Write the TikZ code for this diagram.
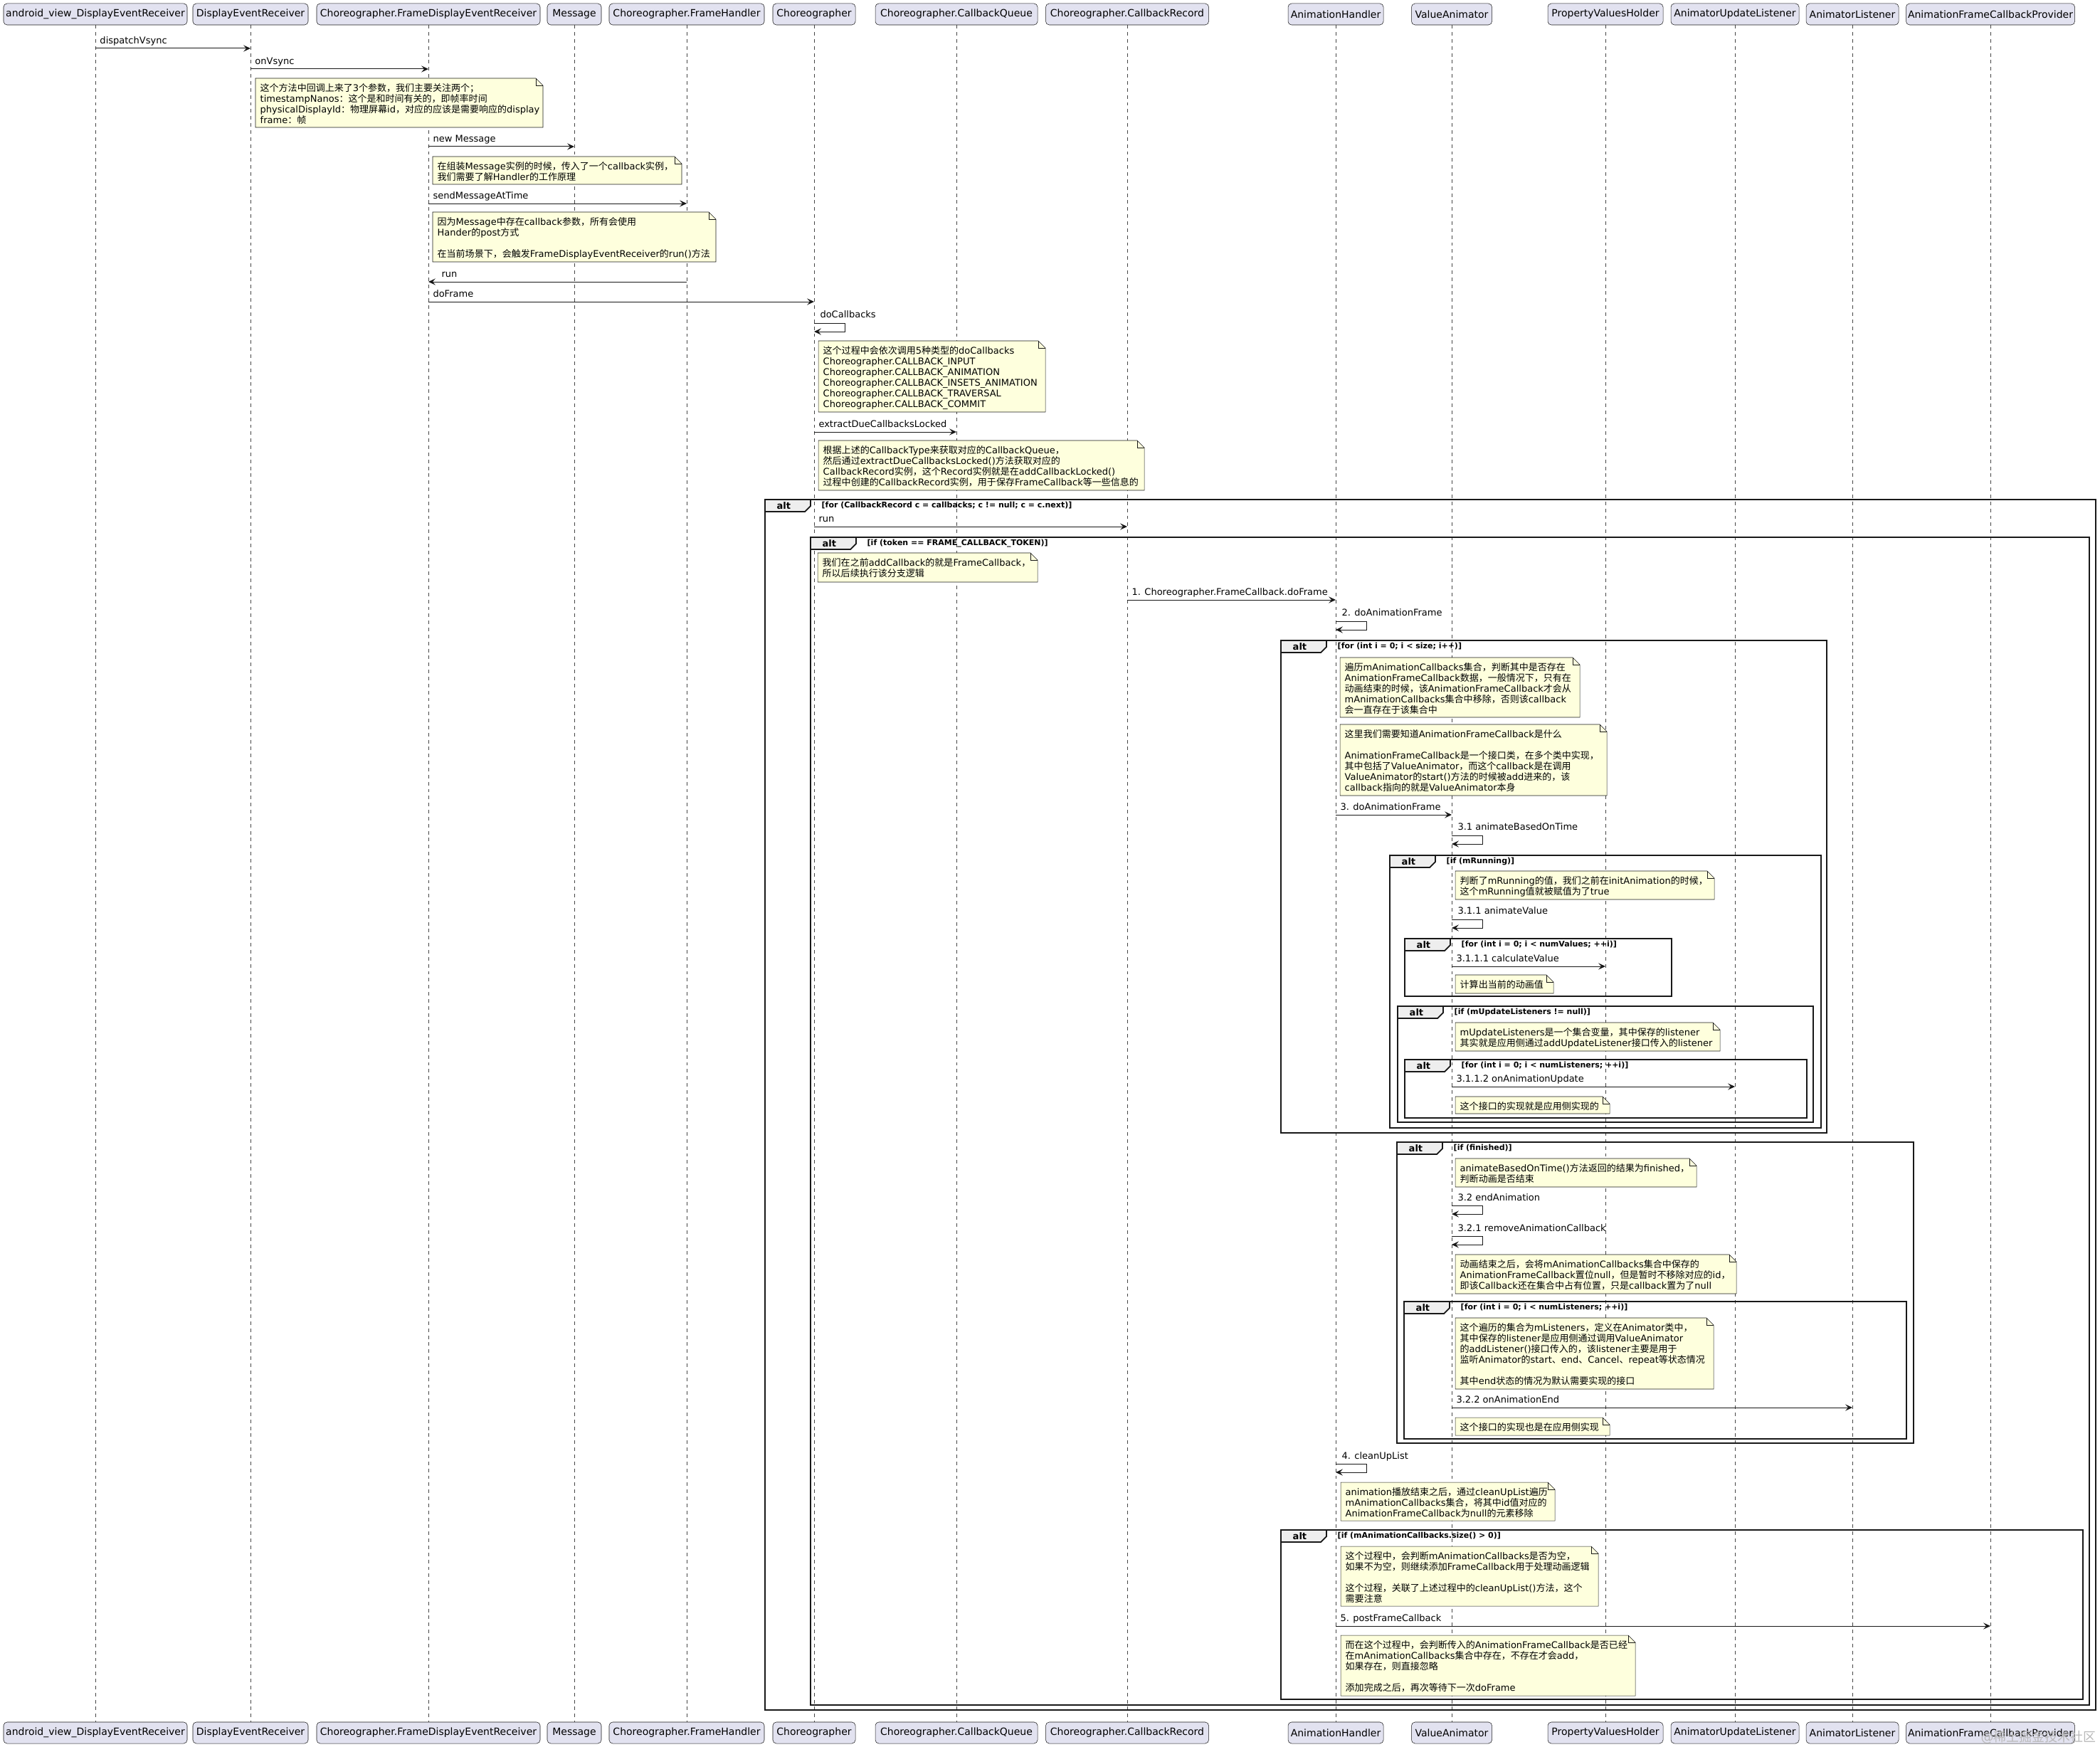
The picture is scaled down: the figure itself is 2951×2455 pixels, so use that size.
\documentclass[tikz,border=0pt]{standalone}
\usepackage{fontspec}
\setmainfont{DejaVu Sans}
\newfontfamily\cjk{Noto Sans CJK SC}
\newfontfamily\latinf{DejaVu Sans}
\usetikzlibrary{arrows.meta,calc}

% switch to the CJK font for Chinese characters
\XeTeXinterchartokenstate=1
\chardef\CJKclass=10
\newcount\cjkc
\newcommand\setcjkrange[2]{\cjkc=#1\relax
  \loop\XeTeXcharclass\cjkc=\CJKclass\relax
    \advance\cjkc by 1\relax
  \ifnum\cjkc<#2\relax\repeat}
\setcjkrange{"4E00}{"A000}
\setcjkrange{"3000}{"3040}
\setcjkrange{"FF00}{"FFF0}
\XeTeXinterchartoks 0 \CJKclass = {\cjk}
\XeTeXinterchartoks 4095 \CJKclass = {\cjk}
\XeTeXinterchartoks \CJKclass 0 = {\latinf}
\XeTeXinterchartoks \CJKclass 4095 = {\latinf}

\definecolor{partfill}{HTML}{E2E2F0}
\definecolor{umlline}{HTML}{181818}
\definecolor{notefill}{HTML}{FEFFDD}
\definecolor{tabfill}{HTML}{EEEEEE}

\newcommand\msgfont{\fontsize{3.7pt}{4.27pt}\selectfont}
\newcommand\partfont{\fontsize{3.98pt}{4.6pt}\selectfont}
\newcommand\guardfont{\fontsize{3.13pt}{3.6pt}\selectfont\bfseries}
\newcommand\altfont{\fontsize{3.7pt}{4.3pt}\selectfont\bfseries}

\tikzset{
  partbox/.style={draw=umlline, line width=0.15pt, fill=partfill, rounded corners=1.4pt,
    minimum height=0.3cm, inner sep=0pt, font=\partfont},
  lifeline/.style={draw=umlline!80, line width=0.15pt, dash pattern=on 1.4pt off 1.4pt},
  msg/.style={->, draw=umlline, line width=0.28pt},
  msglabel/.style={anchor=base west, inner sep=0pt, font=\msgfont, xshift=0.06cm, yshift=0.065cm},
  selflabel/.style={anchor=base west, inner sep=0pt, font=\msgfont, xshift=0.08cm, yshift=0.07cm},
  notebody/.style={draw=umlline, line width=0.15pt, fill=notefill},
  notetext/.style={anchor=north west, inner sep=0pt, align=left, font=\msgfont},
  frameline/.style={draw=umlline, line width=0.5pt},
  tabshape/.style={frameline, fill=tabfill},
  altlabel/.style={anchor=west, inner sep=0pt, font=\altfont},
  guard/.style={anchor=west, inner sep=0pt, font=\guardfont}
}

% note with folded corner: name, x1, y1, x2, y2, text
\newcommand\notebox[6]{%
  \draw[notebody] (#2,#3) -- ({#4-10},#3) -- (#4,{#3+10}) -- (#4,#5) -- (#2,#5) -- cycle;
  \draw[notebody, fill=none] ({#4-10},#3) -- ({#4-10},{#3+10}) -- (#4,{#3+10});
  \node[notetext] (#1) at ({#2+6},{#3+7}) {#6};
}
% alt frame: name, x1, y1, x2, y2, guard
\newcommand\altbox[6]{%
  \draw[frameline] (#2,#3) rectangle (#4,#5);
  \draw[tabshape] (#2,#3) -- ({#2+64},#3) -- ({#2+64},{#3+9}) -- ({#2+56},{#3+17}) -- (#2,{#3+17}) -- cycle;
  \node[altlabel] (#1) at ({#2+16},{#3+8.5}) {alt};
  \node[guard] (#1-g) at ({#2+79},{#3+8.5}) {#6};
}

\begin{document}
\begin{tikzpicture}[x=0.01cm, y=-0.01cm, >={Stealth[length=2.8pt,width=2.6pt,inset=1.1pt]}]
    \useasboundingbox[fill=white] (0,0) rectangle (2951,2455);

    % Participants and lifelines
    \foreach \id/\x/\w/\txt in {
        ADER/134/258/{android\_view\_DisplayEventReceiver},
        DER/352/162/DisplayEventReceiver,
        FDER/602/314/Choreographer.FrameDisplayEventReceiver,
        MSG/807/76/Message,
        FH/965/218/Choreographer.FrameHandler,
        CH/1144/116/Choreographer,
        CQ/1344/228/Choreographer.CallbackQueue,
        CR/1584/229/Choreographer.CallbackRecord,
        AH/1877/134/AnimationHandler,
        VA/2040/113/ValueAnimator,
        PVH/2256/162/PropertyValuesHolder,
        AUL/2438/180/AnimatorUpdateListener,
        AL/2603/130/AnimatorListener,
        AFCP/2797/237/AnimationFrameCallbackProvider}
    {
        \coordinate (\id) at (\x,0);
        \node[partbox, minimum width=\w*0.01cm] (\id-top) at (\x,20) {\txt};
        \node[partbox, minimum width=\w*0.01cm] (\id-bot) at (\x,2435) {\txt};
        \draw[lifeline] (\id-top) -- (\id-bot);
    }

    % Alt frames
    \altbox{f1}{1075}{702}{2945}{2403}{[for (CallbackRecord c = callbacks; c != null; c = c.next)]}
    \altbox{f2}{1139}{755}{2936}{2396}{[if (token == FRAME\_CALLBACK\_TOKEN)]}
    \altbox{f3}{1800}{900}{2567}{1592}{[for (int i = 0; i < size; i++)]}
    \altbox{f4}{1953}{1202}{2559}{1585}{[if (mRunning)]}
    \altbox{f5}{1974}{1319}{2349}{1400}{[for (int i = 0; i < numValues; ++i)]}
    \altbox{f6}{1964}{1414}{2548}{1577}{[if (mUpdateListeners != null)]}
    \altbox{f7}{1974}{1489}{2539}{1571}{[for (int i = 0; i < numListeners; ++i)]}
    \altbox{f8}{1963}{1605}{2689}{2028}{[if (finished)]}
    \altbox{f9}{1973}{1829}{2679}{2022}{[for (int i = 0; i < numListeners; ++i)]}
    \altbox{f10}{1800}{2150}{2927}{2388}{[if (mAnimationCallbacks.size() > 0)]}

    % Notes
    \notebox{n1}{359}{110}{763}{179}{这个方法中回调上来了3个参数，我们主要关注两个；\\timestampNanos：这个是和时间有关的，即帧率时间\\physicalDisplayId：物理屏幕id，对应的应该是需要响应的display\\frame：帧}
    \notebox{n2}{608}{220}{958}{259}{在组装Message实例的时候，传入了一个callback实例，\\我们需要了解Handler的工作原理}
    \notebox{n3}{608}{298}{1006}{368}{因为Message中存在callback参数，所有会使用\\Hander的post方式\\[4.27pt]在当前场景下，会触发FrameDisplayEventReceiver的run()方法}
    \notebox{n4}{1150}{479}{1469}{579}{这个过程中会依次调用5种类型的doCallbacks\\Choreographer.CALLBACK\_INPUT\\Choreographer.CALLBACK\_ANIMATION\\Choreographer.CALLBACK\_INSETS\_ANIMATION\\Choreographer.CALLBACK\_TRAVERSAL\\Choreographer.CALLBACK\_COMMIT}
    \notebox{n5}{1150}{619}{1608}{689}{根据上述的CallbackType来获取对应的CallbackQueue，\\然后通过extractDueCallbacksLocked()方法获取对应的\\CallbackRecord实例，这个Record实例就是在addCallbackLocked()\\过程中创建的CallbackRecord实例，用于保存FrameCallback等一些信息的}
    \notebox{n6}{1149}{777}{1458}{818}{我们在之前addCallback的就是FrameCallback，\\所以后续执行该分支逻辑}
    \notebox{n7}{1883}{924}{2220}{1008}{遍历mAnimationCallbacks集合，判断其中是否存在\\AnimationFrameCallback数据，一般情况下，只有在\\动画结束的时候，该AnimationFrameCallback才会从\\mAnimationCallbacks集合中移除，否则该callback\\会一直存在于该集合中}
    \notebox{n8}{1883}{1018}{2258}{1118}{这里我们需要知道AnimationFrameCallback是什么\\[4.27pt]AnimationFrameCallback是一个接口类，在多个类中实现，\\其中包括了ValueAnimator，而这个callback是在调用\\ValueAnimator的start()方法的时候被add进来的，该\\callback指向的就是ValueAnimator本身}
    \notebox{n9}{2045}{1224}{2409}{1264}{判断了mRunning的值，我们之前在initAnimation的时候，\\这个mRunning值就被赋值为了true}
    \notebox{n10}{2045}{1370}{2183}{1396}{计算出当前的动画值}
    \notebox{n11}{2045}{1437}{2417}{1477}{mUpdateListeners是一个集合变量，其中保存的listener\\其实就是应用侧通过addUpdateListener接口传入的listener}
    \notebox{n12}{2045}{1541}{2262}{1565}{这个接口的实现就是应用侧实现的}
    \notebox{n13}{2045}{1628}{2384}{1668}{animateBasedOnTime()方法返回的结果为finished，\\判断动画是否结束}
    \notebox{n14}{2045}{1763}{2440}{1818}{动画结束之后，会将mAnimationCallbacks集合中保存的\\AnimationFrameCallback置位null，但是暂时不移除对应的id，\\即该Callback还在集合中占有位置，只是callback置为了null}
    \notebox{n15}{2045}{1852}{2408}{1952}{这个遍历的集合为mListeners，定义在Animator类中，\\其中保存的listener是应用侧通过调用ValueAnimator\\的addListener()接口传入的，该listener主要是用于\\监听Animator的start、end、Cancel、repeat等状态情况\\[4.27pt]其中end状态的情况为默认需要实现的接口}
    \notebox{n16}{2045}{1992}{2262}{2017}{这个接口的实现也是在应用侧实现}
    \notebox{n17}{1884}{2083}{2185}{2137}{animation播放结束之后，通过cleanUpList遍历\\mAnimationCallbacks集合，将其中id值对应的\\AnimationFrameCallback为null的元素移除}
    \notebox{n18}{1884}{2173}{2246}{2257}{这个过程中，会判断mAnimationCallbacks是否为空，\\如果不为空，则继续添加FrameCallback用于处理动画逻辑\\[4.27pt]这个过程，关联了上述过程中的cleanUpList()方法，这个\\需要注意}
    \notebox{n19}{1884}{2298}{2298}{2383}{而在这个过程中，会判断传入的AnimationFrameCallback是否已经\\在mAnimationCallbacks集合中存在，不存在才会add，\\如果存在，则直接忽略\\[4.27pt]添加完成之后，再次等待下一次doFrame}

    % Messages
    \draw[msg] (ADER |- 0,68) node[msglabel] (m1) {dispatchVsync} -- (DER |- 0,68);
    \draw[msg] (DER |- 0,97) node[msglabel] (m2) {onVsync} -- (FDER |- 0,97);
    \draw[msg] (FDER |- 0,206) node[msglabel] (m3) {new Message} -- (MSG |- 0,206);
    \draw[msg] (FDER |- 0,286) node[msglabel] (m4) {sendMessageAtTime} -- (FH |- 0,286);
    \draw[msg] (FH |- 0,396) -- (FDER |- 0,396) node[msglabel, xshift=0.12cm] (m5) {run};
    \draw[msg] (FDER |- 0,424) node[msglabel] (m6) {doFrame} -- (CH |- 0,424);
    \draw[msg] (CH |- 0,454) node[selflabel] (m7) {doCallbacks} -- ++(43,0) -- ++(0,12) -- (CH |- 0,466);
    \draw[msg] (CH |- 0,607) node[msglabel] (m8) {extractDueCallbacksLocked} -- (CQ |- 0,607);
    \draw[msg] (CH |- 0,740) node[msglabel] (m9) {run} -- (CR |- 0,740);
    \draw[msg] (CR |- 0,843) node[msglabel] (m10) {1. Choreographer.FrameCallback.doFrame} -- (AH |- 0,843);
    \draw[msg] (AH |- 0,873) node[selflabel] (m11) {2. doAnimationFrame} -- ++(43,0) -- ++(0,12) -- (AH |- 0,885);
    \draw[msg] (AH |- 0,1145) node[msglabel] (m12) {3. doAnimationFrame} -- (VA |- 0,1145);
    \draw[msg] (VA |- 0,1174) node[selflabel] (m13) {3.1 animateBasedOnTime} -- ++(43,0) -- ++(0,12) -- (VA |- 0,1186);
    \draw[msg] (VA |- 0,1292) node[selflabel] (m14) {3.1.1 animateValue} -- ++(43,0) -- ++(0,12) -- (VA |- 0,1304);
    \draw[msg] (VA |- 0,1358) node[msglabel] (m15) {3.1.1.1 calculateValue} -- (PVH |- 0,1358);
    \draw[msg] (VA |- 0,1527) node[msglabel] (m16) {3.1.1.2 onAnimationUpdate} -- (AUL |- 0,1527);
    \draw[msg] (VA |- 0,1694) node[selflabel] (m17) {3.2 endAnimation} -- ++(43,0) -- ++(0,12) -- (VA |- 0,1706);
    \draw[msg] (VA |- 0,1737) node[selflabel] (m18) {3.2.1 removeAnimationCallback} -- ++(43,0) -- ++(0,12) -- (VA |- 0,1749);
    \draw[msg] (VA |- 0,1978) node[msglabel] (m19) {3.2.2 onAnimationEnd} -- (AL |- 0,1978);
    \draw[msg] (AH |- 0,2057) node[selflabel] (m20) {4. cleanUpList} -- ++(43,0) -- ++(0,12) -- (AH |- 0,2069);
    \draw[msg] (AH |- 0,2285) node[msglabel] (m21) {5. postFrameCallback} -- (AFCP |- 0,2285);

    % Watermark
    \node[anchor=base west, inner sep=0pt, text=gray!55, font=\fontsize{5.1pt}{6pt}\selectfont] (wm) at (2783,2447) {@稀土掘金技术社区};
\end{tikzpicture}
\end{document}
